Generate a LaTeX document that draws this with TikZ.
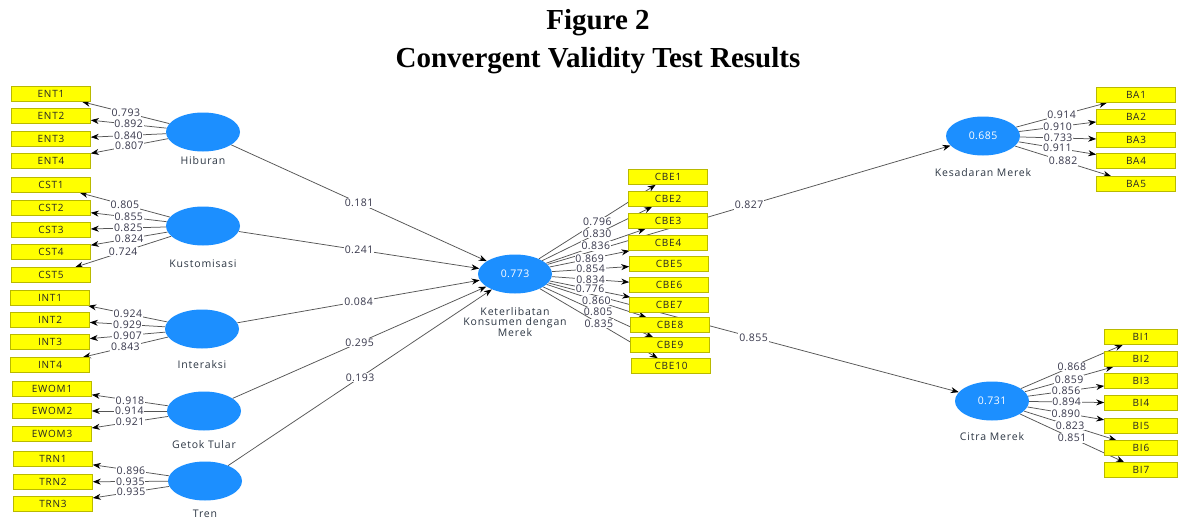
\documentclass[tikz,border=0pt]{standalone}
\usepackage{fontspec}
\setmainfont{Liberation Serif}
\newfontfamily\uifont[LetterSpace=8]{Open Sans}
\newfontfamily\numfont[LetterSpace=4]{Open Sans}
\usetikzlibrary{arrows.meta,shapes.geometric}
\pgfdeclarelayer{edges}
\pgfsetlayers{edges,main}
\definecolor{boxyellow}{RGB}{255,255,0}
\definecolor{boxedge}{RGB}{185,185,0}
\definecolor{lvblue}{RGB}{28,143,255}
\definecolor{linegray}{RGB}{85,85,85}
\definecolor{numcol}{RGB}{55,55,75}
\definecolor{namecol}{RGB}{45,55,68}
\begin{document}
\begin{tikzpicture}[x=1pt,y=-1pt,
  ind/.style={draw=boxedge, fill=boxyellow, line width=0.6pt, minimum width=79pt,
    minimum height=15pt, inner sep=0pt, font=\uifont\fontsize{10}{10}\selectfont, text=black!85},
  lv/.style={ellipse, fill=lvblue, minimum width=74pt, minimum height=39pt, inner sep=0pt,
    text=white, font=\numfont\fontsize{10.5}{10}\selectfont},
  lvname/.style={font=\uifont\fontsize{10.5}{10.5}\selectfont, text=namecol, align=center, inner sep=0pt},
  link/.style={draw=linegray, line width=0.75pt, -{Stealth[length=8pt,width=6pt,black]}},
  coef/.style={midway, fill=white, inner sep=0.8pt, font=\numfont\fontsize{10.5}{10}\selectfont, text=numcol},
  ttlfont/.style={font=\bfseries\fontsize{29}{29}\selectfont, anchor=base, inner sep=0pt}
]
\useasboundingbox (0,0) rectangle (1178,519);

% title
\node[ttlfont] (fig) at (598,30) {Figure 2};
\node[ttlfont] (ttl) at (598,68) {Convergent Validity Test Results};

% exogenous constructs
\node[lv] (H) at (203,132) {};
\node[lv] (K) at (203,226) {};
\node[lv] (I) at (202,329) {};
\node[lv] (G) at (204,411) {};
\node[lv] (T) at (205,481) {};
\node[lvname] (Hn) at (203,161) {Hiburan};
\node[lvname] (Kn) at (203,264) {Kustomisasi};
\node[lvname] (In) at (202,365) {Interaksi};
\node[lvname] (Gn) at (204,445) {Getok Tular};
\node[lvname] (Tn) at (205,514) {Tren};

% endogenous constructs
\node[lv] (C) at (515,274) {0.773};
\node[lvname] (Cn) at (515,322) {Keterlibatan\\Konsumen dengan\\Merek};
\node[lv] (B) at (983,136) {0.685};
\node[lvname] (Bn) at (983,173) {Kesadaran Merek};
\node[lv] (M) at (992,401) {0.731};
\node[lvname] (Mn) at (992,437) {Citra Merek};

% indicators
\node[ind] (ENT1) at (51,94) {ENT1};
\node[ind] (ENT2) at (51,116) {ENT2};
\node[ind] (ENT3) at (51,139) {ENT3};
\node[ind] (ENT4) at (51,161) {ENT4};
\node[ind] (CST1) at (51,185) {CST1};
\node[ind] (CST2) at (51,208) {CST2};
\node[ind] (CST3) at (51,230) {CST3};
\node[ind] (CST4) at (51,252) {CST4};
\node[ind] (CST5) at (51,275) {CST5};
\node[ind] (INT1) at (50,298) {INT1};
\node[ind] (INT2) at (50,320) {INT2};
\node[ind] (INT3) at (50,342) {INT3};
\node[ind] (INT4) at (50,365) {INT4};
\node[ind] (EW1) at (52,389) {EWOM1};
\node[ind] (EW2) at (52,411) {EWOM2};
\node[ind] (EW3) at (52,434) {EWOM3};
\node[ind] (TRN1) at (53,459) {TRN1};
\node[ind] (TRN2) at (53,482) {TRN2};
\node[ind] (TRN3) at (53,504) {TRN3};

\node[ind] (CBE1) at (668,177) {CBE1};
\node[ind] (CBE2) at (668,199) {CBE2};
\node[ind] (CBE3) at (668,221) {CBE3};
\node[ind] (CBE4) at (668,243) {CBE4};
\node[ind] (CBE5) at (669,264) {CBE5};
\node[ind] (CBE6) at (669,285) {CBE6};
\node[ind] (CBE7) at (669,305) {CBE7};
\node[ind] (CBE8) at (670,325) {CBE8};
\node[ind] (CBE9) at (670,345) {CBE9};
\node[ind] (CBE10) at (671,366) {CBE10};

\node[ind] (BA1) at (1136,95) {BA1};
\node[ind] (BA2) at (1136,117) {BA2};
\node[ind] (BA3) at (1136,140) {BA3};
\node[ind] (BA4) at (1136,161) {BA4};
\node[ind] (BA5) at (1136,184) {BA5};

\node[ind, minimum width=73pt] (BI1) at (1141,337) {BI1};
\node[ind, minimum width=73pt] (BI2) at (1141,359) {BI2};
\node[ind, minimum width=73pt] (BI3) at (1141,381) {BI3};
\node[ind, minimum width=73pt] (BI4) at (1141,403) {BI4};
\node[ind, minimum width=73pt] (BI5) at (1141,426) {BI5};
\node[ind, minimum width=73pt] (BI6) at (1141,448) {BI6};
\node[ind, minimum width=73pt] (BI7) at (1141,470) {BI7};

\begin{pgfonlayer}{edges}
\fill[white] (0,0) rectangle (1178,519);
% structural paths
\draw[link] (H) -- node[coef]{0.181} (C);
\draw[link] (K) -- node[coef]{0.241} (C);
\draw[link] (I) -- node[coef]{0.084} (C);
\draw[link] (G) -- node[coef]{0.295} (C);
\draw[link] (T) -- node[coef]{0.193} (C);
\draw[link] (C) -- node[coef]{0.827} (B);
\draw[link] (C) -- node[coef]{0.855} (M);
% outer loadings
\draw[link] (H) -- node[coef]{0.793} (ENT1);
\draw[link] (H) -- node[coef]{0.892} (ENT2);
\draw[link] (H) -- node[coef]{0.840} (ENT3);
\draw[link] (H) -- node[coef]{0.807} (ENT4);
\draw[link] (K) -- node[coef]{0.805} (CST1);
\draw[link] (K) -- node[coef]{0.855} (CST2);
\draw[link] (K) -- node[coef]{0.825} (CST3);
\draw[link] (K) -- node[coef]{0.824} (CST4);
\draw[link] (K) -- node[coef]{0.724} (CST5);
\draw[link] (I) -- node[coef]{0.924} (INT1);
\draw[link] (I) -- node[coef]{0.929} (INT2);
\draw[link] (I) -- node[coef]{0.907} (INT3);
\draw[link] (I) -- node[coef]{0.843} (INT4);
\draw[link] (G) -- node[coef]{0.918} (EW1);
\draw[link] (G) -- node[coef]{0.914} (EW2);
\draw[link] (G) -- node[coef]{0.921} (EW3);
\draw[link] (T) -- node[coef]{0.896} (TRN1);
\draw[link] (T) -- node[coef]{0.935} (TRN2);
\draw[link] (T) -- node[coef]{0.935} (TRN3);
\draw[link] (C) -- node[coef]{0.796} (CBE1);
\draw[link] (C) -- node[coef]{0.830} (CBE2);
\draw[link] (C) -- node[coef]{0.836} (CBE3);
\draw[link] (C) -- node[coef]{0.869} (CBE4);
\draw[link] (C) -- node[coef]{0.854} (CBE5);
\draw[link] (C) -- node[coef]{0.834} (CBE6);
\draw[link] (C) -- node[coef]{0.776} (CBE7);
\draw[link] (C) -- node[coef]{0.860} (CBE8);
\draw[link] (C) -- node[coef]{0.805} (CBE9);
\draw[link] (C) -- node[coef]{0.835} (CBE10);
\draw[link] (B) -- node[coef]{0.914} (BA1);
\draw[link] (B) -- node[coef]{0.910} (BA2);
\draw[link] (B) -- node[coef]{0.733} (BA3);
\draw[link] (B) -- node[coef]{0.911} (BA4);
\draw[link] (B) -- node[coef]{0.882} (BA5);
\draw[link] (M) -- node[coef]{0.868} (BI1);
\draw[link] (M) -- node[coef]{0.859} (BI2);
\draw[link] (M) -- node[coef]{0.856} (BI3);
\draw[link] (M) -- node[coef]{0.894} (BI4);
\draw[link] (M) -- node[coef]{0.890} (BI5);
\draw[link] (M) -- node[coef]{0.823} (BI6);
\draw[link] (M) -- node[coef]{0.851} (BI7);
\end{pgfonlayer}
\end{tikzpicture}
\end{document}
